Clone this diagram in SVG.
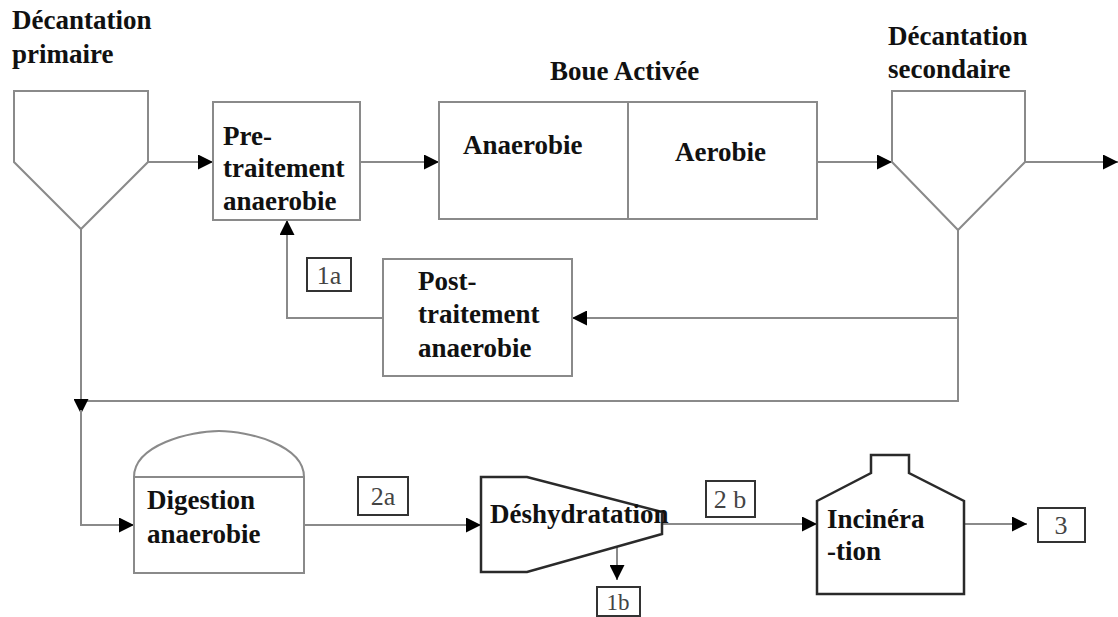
<svg xmlns="http://www.w3.org/2000/svg" width="1118" height="617" viewBox="0 0 1118 617">
<style>
.t{font-family:"Liberation Serif","Times New Roman",Times,serif;font-weight:bold;font-size:27px;fill:#111}
.l{font-family:"Liberation Serif","Times New Roman",Times,serif;font-size:26px;fill:#444}
.shape{fill:#fff;stroke:#8a8a8a;stroke-width:2}
.dark{fill:#fff;stroke:#2a2a2a;stroke-width:2.5}
.lbl{fill:#fff;stroke:#333;stroke-width:2}
.c{fill:none;stroke:#8a8a8a;stroke-width:2}
</style>
<defs>
<marker id="ah" viewBox="0 0 10 10" refX="10" refY="5" markerWidth="15" markerHeight="15" markerUnits="userSpaceOnUse" orient="auto">
<path d="M0,0 L10,5 L0,10 z" fill="#000"/>
</marker>
</defs>
<rect width="1118" height="617" fill="#fff"/>

<g id="connectors">
<path class="c" d="M148,162 L213,162" marker-end="url(#ah)"/>
<path class="c" d="M360,162 L439,162" marker-end="url(#ah)"/>
<path class="c" d="M817,162 L892,162" marker-end="url(#ah)"/>
<path class="c" d="M1025,162 L1118,162" marker-end="url(#ah)"/>
<path class="c" d="M958,230 L958,401 L81,401"/>
<path class="c" d="M958,318 L572,318" marker-end="url(#ah)"/>
<path class="c" d="M383,318 L287,318 L287,220" marker-end="url(#ah)"/>
<path class="c" d="M81,229 L81,414" marker-end="url(#ah)"/>
<path class="c" d="M81,410 L81,525 L134,525" marker-end="url(#ah)"/>
<path class="c" d="M304,525 L481,525" marker-end="url(#ah)"/>
<path class="c" d="M662,524 L817,524" marker-end="url(#ah)"/>
<path class="c" d="M964,524 L1027,524" marker-end="url(#ah)"/>
<path class="c" d="M617,547 L617,580" marker-end="url(#ah)"/>
</g>

<g id="decantation-primaire">
<polygon class="shape" points="14,91 148,91 148,162 81,229 14,162"/>
<text class="t" x="12" y="29">Décantation</text>
<text class="t" x="12" y="63">primaire</text>
</g>

<g id="pretraitement">
<rect class="shape" x="213" y="102" width="147" height="118"/>
<text class="t" x="223" y="145">Pre-</text>
<text class="t" x="223" y="177">traitement</text>
<text class="t" x="223" y="210">anaerobie</text>
</g>

<g id="boue-activee">
<text class="t" x="550" y="80">Boue Activée</text>
<rect class="shape" x="439" y="102" width="378" height="117"/>
<line class="shape" x1="628" y1="102" x2="628" y2="219"/>
<text class="t" x="463" y="154">Anaerobie</text>
<text class="t" x="675" y="161">Aerobie</text>
</g>

<g id="decantation-secondaire">
<polygon class="shape" points="892,91 1025,91 1025,162 958,230 892,162"/>
<text class="t" x="888" y="45">Décantation</text>
<text class="t" x="888" y="78">secondaire</text>
</g>

<g id="label-1a">
<rect class="lbl" x="307" y="258" width="44" height="33"/>
<text class="l" x="329" y="284" text-anchor="middle">1a</text>
</g>

<g id="posttraitement">
<rect class="shape" x="383" y="259" width="189" height="117"/>
<text class="t" x="418" y="290">Post-</text>
<text class="t" x="418" y="323">traitement</text>
<text class="t" x="418" y="357">anaerobie</text>
</g>

<g id="digestion">
<path class="shape" d="M134,477 C134,445 190,431 219,431 C248,431 304,445 304,477 Z"/>
<rect class="shape" x="134" y="477" width="170" height="96"/>
<text class="t" x="147" y="509">Digestion</text>
<text class="t" x="147" y="543">anaerobie</text>
</g>

<g id="label-2a">
<rect class="lbl" x="358" y="477" width="50" height="38"/>
<text class="l" x="383" y="505" text-anchor="middle">2a</text>
</g>

<g id="deshydratation">
<polygon class="dark" points="481,477 527,477 662,512 662,534 527,572 481,572"/>
<text class="t" x="490" y="523">Déshydratation</text>
</g>

<g id="label-1b">
<rect class="lbl" x="597" y="587" width="43" height="29"/>
<text class="l" x="618" y="610" text-anchor="middle" style="font-size:23px">1b</text>
</g>

<g id="label-2b">
<rect class="lbl" x="706" y="481" width="49" height="36"/>
<text class="l" x="730" y="508" text-anchor="middle">2 b</text>
</g>

<g id="incineration">
<polygon class="dark" points="817,501 871,473 871,455 909,455 909,473 964,501 964,594 817,594"/>
<text class="t" x="827" y="528">Incinéra</text>
<text class="t" x="827" y="560">-tion</text>
</g>

<g id="label-3">
<rect class="lbl" x="1038" y="508" width="47" height="34"/>
<text class="l" x="1061" y="534" text-anchor="middle">3</text>
</g>
</svg>
